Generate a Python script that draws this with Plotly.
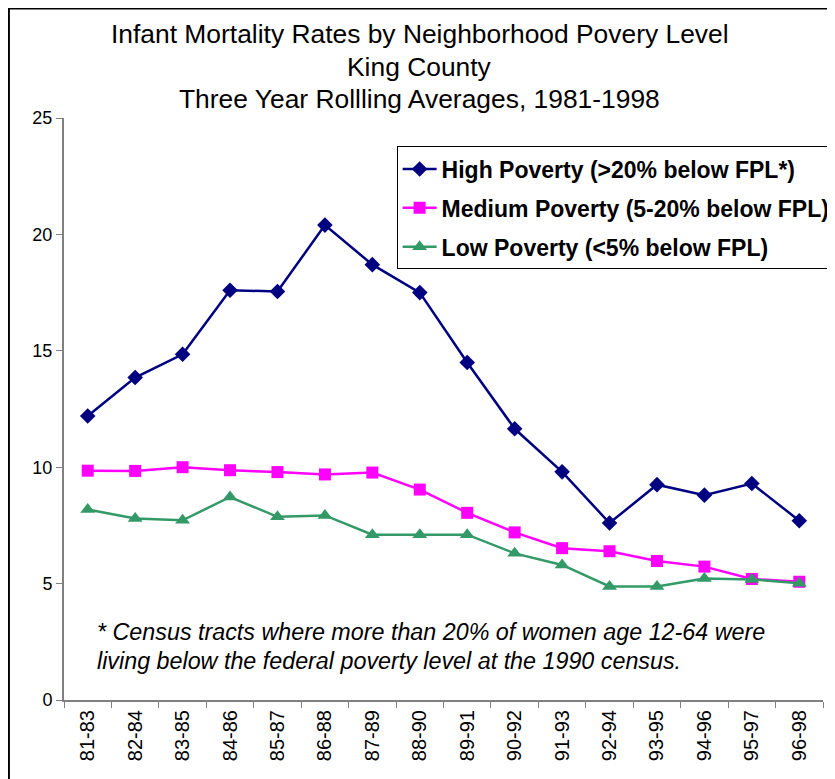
import plotly.graph_objects as go

# three-year rolling periods
periods = ["81-83", "82-84", "83-85", "84-86", "85-87", "86-88", "87-89", "88-90",
           "89-91", "90-92", "91-93", "92-94", "93-95", "94-96", "95-97", "96-98"]

high_poverty = [12.2, 13.85, 14.85, 17.6, 17.55, 20.4, 18.7, 17.5,
                14.5, 11.65, 9.8, 7.6, 9.25, 8.8, 9.3, 7.7]
medium_poverty = [9.85, 9.84, 10.0, 9.87, 9.79, 9.69, 9.77, 9.04,
                  8.04, 7.2, 6.52, 6.39, 5.97, 5.73, 5.2, 5.08]
low_poverty = [8.18, 7.8, 7.72, 8.72, 7.87, 7.93, 7.1, 7.1,
               7.1, 6.3, 5.8, 4.88, 4.88, 5.22, 5.18, 5.02]

y_ticks = [0, 5, 10, 15, 20, 25]

# page offset / horizontal scale seen in the rendered page
OFF_X, OFF_Y, SX = 8.4, 8, 0.9835
W, H = 835, 779
L, R, T, B = 56, 7.5, 109.5, 87
PW, PH = W - L - R, H - T - B


def px(xp):
    # page x pixel -> paper coordinate
    return ((xp - OFF_X) / SX - L) / PW


def py(yp):
    # page y pixel -> paper coordinate
    return (H - B - (yp - OFF_Y)) / PH


fig = go.Figure()

series = [
    ("High Poverty (>20% below FPL*)", high_poverty, "#000080", "diamond", 12),
    ("Medium Poverty (5-20% below FPL)", medium_poverty, "#FF00FF", "square", 12),
    ("Low Poverty (<5% below FPL)", low_poverty, "#339966", "triangle-up", 13),
]
for i, (name, vals, color, sym, size) in enumerate(series):
    fig.add_trace(go.Scatter(
        x=periods, y=vals, name=name, mode="lines+markers",
        legendgroup=str(i),
        line=dict(color=color, width=2.5),
        marker=dict(symbol=sym, size=size, color=color),
    ))

title_lines = ["Infant Mortality Rates by Neighborhood Povery Level",
               "King County",
               "Three Year Rollling Averages, 1981-1998"]
for line, yp in zip(title_lines, [33, 66, 98]):
    fig.add_annotation(text=line, xref="paper", yref="paper", x=px(419), y=py(yp),
                       xanchor="center", yanchor="middle", showarrow=False,
                       font=dict(family="Liberation Sans, Arial", size=26.4, color="black"))

notes = ["* Census tracts where more than 20% of women age 12-64 were",
         "living below the federal poverty level at the 1990 census."]
for line, yp in zip(notes, [632, 661]):
    fig.add_annotation(text="<i>" + line + "</i>", xref="paper", yref="paper", x=px(94), y=py(yp),
                       xanchor="left", yanchor="middle", showarrow=False,
                       font=dict(family="Liberation Sans, Arial", size=23.3, color="black"))

# outer frame of the chart
fig.add_shape(type="rect", xref="paper", yref="paper",
              x0=px(8.4), x1=px(900), y0=py(8), y1=py(820),
              line=dict(color="black", width=2), layer="below")

fig.update_layout(
    width=W, height=H,
    margin=dict(l=L, r=R, t=T, b=B),
    paper_bgcolor="white", plot_bgcolor="white",
    font=dict(family="Liberation Sans, Arial", color="black"),
    showlegend=True,
    legend=dict(x=px(396), y=py(146), xanchor="left", yanchor="top",
                bgcolor="white", bordercolor="black", borderwidth=1,
                font=dict(family="Liberation Sans, Arial", size=23, color="black", weight="bold"),
                tracegroupgap=6, itemwidth=34),
    xaxis=dict(type="category", showgrid=False, zeroline=False, showline=True,
               linecolor="#808080", linewidth=2, ticks="outside", tickson="boundaries",
               ticklen=6, tickcolor="#808080", tickangle=-90,
               tickfont=dict(size=20), range=[-0.5, 15.5]),
    yaxis=dict(range=[0, 25], tickvals=y_ticks, showgrid=False, zeroline=False,
               showline=True, linecolor="#808080", linewidth=2, ticks="outside",
               ticklen=6, tickcolor="#808080", tickfont=dict(size=18)),
)

fig.write_html("out.html")
